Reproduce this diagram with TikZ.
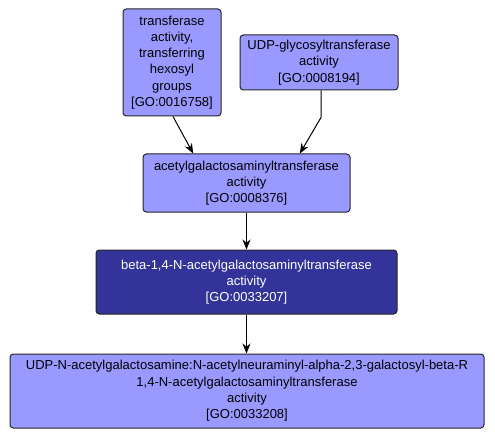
\documentclass[tikz,border=0pt]{standalone}
\usepackage{fontspec}
\setmainfont{Liberation Sans}
\usetikzlibrary{arrows.meta}
\definecolor{golight}{RGB}{153,153,255}
\definecolor{godark}{RGB}{51,51,153}
\tikzset{every picture/.style={line width=0.75pt}}
\tikzset{
  goterm/.style={draw=black!85, fill=golight, rounded corners=2.5pt, align=center, inner sep=0pt,
    font=\fontsize{9.75}{12.2}\selectfont},
  goself/.style={goterm, fill=godark, text=white},
  isa/.style={-{Stealth[length=7.5pt,width=6pt]}, black}
}

\begin{document}
\begin{tikzpicture}[x=0.75pt,y=0.75pt,yscale=-1,xscale=1]
	\useasboundingbox (0,0) rectangle (495,438);
	
	% Text Node
	\node [goterm, minimum width=73.5pt, minimum height=80.25pt] (hexosyl) at (172,62.5) {transferase\\activity,\\transferring\\hexosyl\\groups\\{[GO:0016758]}};
	% Text Node
	\node [goterm, minimum width=118.5pt, minimum height=41.25pt] (udpglyco) at (319,62.5) {UDP-glycosyltransferase\\activity\\{[GO:0008194]}};
	% Text Node
	\node [goterm, minimum width=155.25pt, minimum height=43.5pt] (galnac) at (246.5,183) {acetylgalactosaminyltransferase\\activity\\{[GO:0008376]}};
	% Text Node
	\node [goself, minimum width=225.75pt, minimum height=48pt] (betagalnac) at (246.5,282) {beta-1,4-N-acetylgalactosaminyltransferase\\activity\\{[GO:0033207]}};
	% Text Node
	\node [goterm, minimum width=355.5pt, minimum height=55.5pt] (sialyl) at (247,391) {UDP-N-acetylgalactosamine:N-acetylneuraminyl-alpha-2,3-galactosyl-beta-R\\1,4-N-acetylgalactosaminyltransferase\\activity\\{[GO:0033208]}};
	
	%Straight Lines
	\draw [isa] ([xshift=0.75pt]hexosyl.south) -- ([xshift=-40pt]galnac.north) ;
	%Straight Lines
	\draw [isa] ([xshift=1.5pt]udpglyco.south) -- ++(0,27) -- ([xshift=40pt]galnac.north) ;
	%Straight Lines
	\draw [isa] (galnac.south) -- (betagalnac.north) ;
	%Straight Lines
	\draw [isa] (betagalnac.south) -- (betagalnac.south |- sialyl.north) ;
	
\end{tikzpicture}
\end{document}
